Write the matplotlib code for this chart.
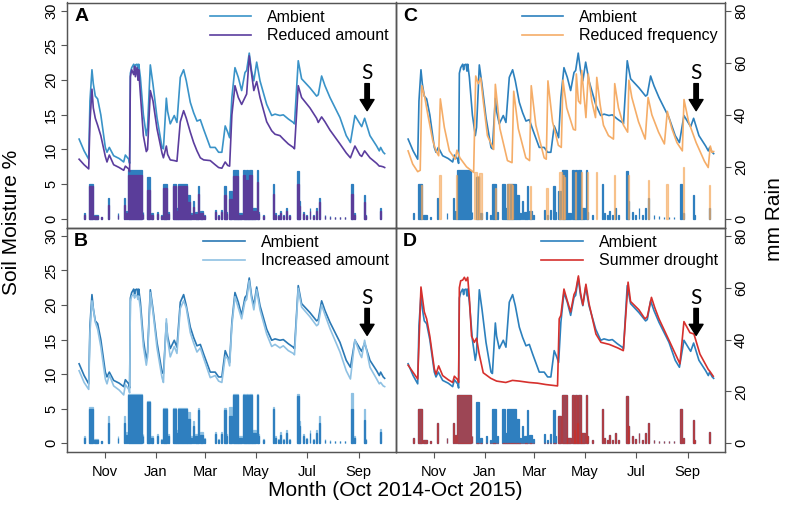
import numpy as np
import matplotlib
matplotlib.use("Agg")
import matplotlib.pyplot as plt
import matplotlib.dates as mdates

plt.rcParams['font.family'] = ['Liberation Sans', 'DejaVu Sans']

# days since 1 Oct 2014
base = mdates.date2num(np.datetime64('2014-10-01'))

# ---- soil moisture (%), ambient and the treatments read on the same days ----
amb_d = [0, 6, 11.5, 13, 15.4, 17, 19.4, 22.2, 26, 31.4, 33.4, 36.2, 41.4, 48, 53.4, 55.4, 59.4, 60.5, 61.4, 63,
         65.4, 66.5, 67.4, 69.4, 70.5, 71.4, 73.4, 77, 80.5, 82, 85.3, 88.5, 93.3, 99.3, 101, 104.5, 106, 109.2, 114, 117.2,
         121.2, 125.2, 128.4, 133.2, 137.2, 141.2, 145.2, 149.2, 157.1, 163, 167.1, 171, 175, 178, 180.3, 183, 186.7, 190.7, 194.7, 198.7,
         200.7, 203.8, 206.5, 209.3, 212.7, 216.7, 224.7, 230.7, 234.7, 240.6, 244.6, 250.6, 256.5, 258, 262.5, 266.5, 276.5, 284.5, 286.5, 290.5,
         294.5, 300.5, 312.5, 320, 325, 330.4, 336.4, 338.5, 342, 348.4, 356.4, 359.6, 361.2, 364.3, 366]
ambient = [11.5, 9.8, 8.6, 17, 21.5, 19.5, 17.7, 17.3, 15, 10.3, 9.6, 10.3, 9.1, 8.7, 8.2, 9.2, 8.6, 8.0, 21.0, 21.8,
           22.3, 21.5, 22.2, 22.3, 21.3, 22.3, 20.4, 15, 12, 13.2, 22.2, 19.4, 14.6, 10.3, 10.1, 17.4, 15.5, 13.7, 14.9, 13.9,
           20.4, 21.5, 19.9, 16.8, 15.3, 14.1, 14.3, 12.9, 10.3, 10.3, 9.6, 9.6, 13.4, 12.5, 11.7, 17.5, 21.8, 20.4, 18.5, 21.1,
           21.4, 23.9, 21.4, 19.9, 22.6, 19.9, 16.5, 14.9, 15.1, 14.9, 15.0, 14.4, 13.9, 13.7, 22.8, 20.2, 18.9, 17.7, 17.9, 20.6,
           19.2, 17.5, 14.6, 12, 11, 14.9, 13.7, 13.3, 14.5, 12, 10.5, 9.8, 10.3, 9.6, 9.4]
reduced_amt = [8.6, 7.8, 7.2, 14, 18.7, 16, 14.5, 13.5, 12, 9, 8.2, 9.2, 7.8, 7.4, 7.0, 7.6, 7.2, 6.8, 20.5, 21.5,
               20.8, 22, 20.5, 21.8, 20.0, 21.5, 18, 12, 9.7, 10, 18.5, 17, 13, 9.5, 8.8, 10.5, 9.3, 8.5, 8.4, 8.3,
               14, 15.6, 14.5, 12.5, 11, 9.8, 8.8, 8.5, 8.4, 7.8, 7.4, 7.3, 8.2, 7.7, 7.6, 15, 19.2, 17.5, 16.5, 17.5,
               18, 23.5, 21, 18.5, 19.8, 17.5, 14, 12.7, 12.2, 12.0, 11.5, 10.8, 10.3, 10.1, 19.2, 17.5, 16, 14.5, 13.9, 14.7,
               14, 12.8, 10.8, 9.5, 8.8, 10.5, 9.2, 9.0, 9.8, 8.8, 8, 7.6, 7.6, 7.5, 7.4]
increased_amt = [10.5, 8.8, 7.8, 16, 20.6, 19.5, 17.5, 16.5, 14, 9.3, 8.6, 9.9, 8.3, 7.7, 7.0, 8.5, 7.8, 7.3, 20.5, 21.3,
                 21.5, 21, 21.5, 21.3, 20.8, 21.3, 19.5, 14, 11.3, 12.5, 21.8, 19, 13.8, 9.5, 8.8, 18.0, 15, 12.5, 14, 13,
                 19.5, 20.6, 19.6, 16, 14.5, 13.2, 13.8, 12.3, 9.5, 9.8, 9, 8.8, 12.5, 12.3, 11.2, 17, 21.2, 19.6, 18, 20.5,
                 20.8, 23.5, 21, 19.3, 22.2, 19.3, 15.8, 14, 14.3, 13.8, 14.1, 13.4, 13, 12.8, 22.4, 19.7, 18.3, 17, 17.2, 20.0,
                 18.6, 16.6, 13.2, 10.5, 9.3, 15, 12.9, 12.4, 14.9, 11, 9.3, 8.6, 8.8, 8.3, 8.2]

rf_d = [0, 5.5, 11.5, 14.5, 16.5, 20, 23.5, 29.5, 33.4, 36.6, 38.6, 43.4, 49.4, 56.5, 58.5, 62, 70, 78.5, 81, 84,
        87, 90, 95, 102.5, 104.5, 110, 119, 124.5, 126.5, 132, 141, 145.5, 147.5, 153, 163, 165.5, 167.5, 173, 180, 183.5,
        185.5, 190, 198, 200.5, 201.5, 204, 206.5, 208, 213, 215.8, 220, 224.5, 226, 230, 234, 240, 246, 247.5, 252, 258,
        263, 264.5, 268, 276, 284, 287.5, 292, 300, 307, 310.5, 316, 322, 328.5, 330.5, 336, 345, 355, 359.5, 362, 364, 366]
reduced_freq = [9.8, 7.9, 6.8, 7.0, 19.2, 17.5, 15.1, 11.3, 9.8, 9.1, 17.3, 13.2, 9.8, 8.6, 9.9, 8.8, 7.5, 6.7, 20.6, 19.5,
                20.3, 17, 12, 10, 19.4, 13, 8.4, 8.1, 18.4, 13, 8.8, 8.4, 19.2, 13.5, 8.8, 8.6, 19.9, 14, 10.6, 10.3,
                20, 16, 12.9, 12.8, 20.9, 17, 16.6, 21.4, 14.6, 20.9, 17, 14.6, 20.4, 16.5, 13.5, 12, 11.5, 19.5, 16, 13.5,
                12.5, 20, 17.5, 14, 11.5, 17.5, 15, 12.5, 10.8, 15.5, 13, 11, 9.8, 17.2, 14, 11, 8.3, 7.4, 10.5, 9.6, 9.7]

dr_d = [0, 11.5, 15.4, 19.4, 22.2, 26, 31.4, 33.4, 36.6, 41.4, 48, 53.4, 55.4, 59.4, 60.5, 61.4, 63, 65.4, 67.4, 69.4,
        71.4, 73.4, 76, 79.3, 82, 85, 90, 99, 106, 117, 125, 133, 145, 155, 165, 179, 181, 183, 186.7, 190.7,
        194.7, 198.7, 200.7, 204, 206.5, 209.3, 213, 216.7, 225, 231, 241, 251, 257.8, 263.5, 266.5, 276.5, 283.7, 286.5, 291.5, 295.5,
        300.5, 313.7, 325.6, 330.4, 337.6, 342.4, 349.6, 359.5, 361.5, 365.5]
summer_drought = [11.3, 9.3, 22.6, 19, 18, 15.5, 10.8, 10, 11.2, 9.8, 9.2, 8.8, 9.7, 9.2, 8.8, 22.5, 23.5, 23.6, 24, 23.5,
                  24, 21, 15.5, 14.6, 15.2, 13, 10.2, 9.4, 9.0, 8.8, 9.1, 9.0, 8.8, 8.7, 8.5, 8.3, 18, 18.5, 22.3, 20.6,
                  19, 21.5, 22, 24.2, 21.8, 20, 23, 20.2, 15.8, 14.6, 14.3, 13.8, 13.4, 23.3, 20.5, 19.3, 18, 18.3, 21.1, 19.6,
                  18, 14.6, 11.5, 17.6, 16, 15.8, 12.9, 10.7, 10.4, 9.7]

# ---- rain (mm): start day, number of days, amount ----
rain_start = [6, 12, 18, 26, 35, 46, 54, 56, 59, 76, 81, 86, 93, 98, 101, 106, 112, 116, 119, 129,
              133, 136, 139, 143, 145, 150, 163, 166, 170, 174, 176, 179, 184, 190, 196, 199, 200, 202, 204, 207,
              213, 214, 220, 232, 235, 238, 241, 244, 248, 252, 261, 263, 268, 272, 276, 280, 284, 287, 294, 300,
              306, 312, 318, 326, 329, 341, 343, 361]
rain_len = [1, 5, 5, 1, 1, 1, 1, 1, 16, 1, 4, 2, 1, 1, 4, 2, 4, 3, 10, 4,
            2, 2, 3, 1, 4, 1, 1, 1, 1, 2, 1, 4, 6, 5, 3, 1, 2, 2, 3, 5,
            1, 2, 1, 2, 1, 1, 1, 2, 1, 1, 2, 2, 1, 1, 1, 1, 1, 2, 1, 1,
            1, 1, 1, 2, 1, 1, 1, 1]
rain_ambient = [2.1, 13.3, 1.3, 0.8, 8, 2.1, 8, 3.2, 18.7, 2.7, 16, 2.1, 2.7, 1.3, 13.3, 2.7, 13.3, 4, 13.3, 9.3,
                2.1, 6.7, 2.7, 12.8, 3.2, 1.6, 3.5, 1.3, 3.5, 12.8, 2.7, 10.7, 18.7, 2.1, 18.7, 5.3, 18.7, 8, 18.7, 4,
                18.7, 2.7, 1.3, 13.3, 2.1, 1.3, 3.2, 1.3, 4, 1.3, 18.4, 6.7, 2.7, 1.6, 4, 1.3, 4, 8, 1.3, 1.1,
                0.8, 0.8, 0.8, 13.3, 2.1, 9, 1.3, 4.3]
rain_reduced = [1.6, 12.5, 1.0, 0.6, 5.5, 1.6, 5.5, 2.4, 17, 2, 11, 1.6, 2, 1, 12, 2, 12.5, 3, 12.5, 6.5,
                1.6, 4.5, 2, 9.5, 2.4, 1.2, 2.6, 1, 2.6, 9, 2, 7.5, 16.5, 1.6, 17, 4, 15, 6, 17, 3,
                14, 2, 1, 9.5, 1.6, 1, 2.4, 1, 3, 1, 13.5, 5, 2, 1.2, 3, 1, 3, 6.5, 1, 0.8,
                0.6, 0.6, 0.6, 9.5, 1.6, 6.5, 1, 3.2]
rain_increased = [2.7, 14, 1.7, 1, 10.4, 2.7, 10.4, 4.2, 19, 3.5, 16.5, 2.7, 3.5, 1.7, 13.8, 3.5, 13.8, 5.2, 13.8, 12,
                  2.7, 8.7, 3.5, 13.5, 4.2, 2.1, 4.5, 1.7, 4.5, 13.5, 3.5, 13.9, 19, 2.7, 19, 6.9, 19, 10.4, 19, 5.2,
                  19, 3.5, 1.7, 14, 2.7, 1.7, 4.2, 1.7, 5.2, 1.7, 19, 8.7, 3.5, 2.1, 5.2, 1.7, 5.2, 10.4, 1.7, 1.4,
                  1, 1, 1, 19.5, 2.7, 13.3, 1.7, 5.6]
rain_drought = [2.1, 13.3, 1.3, 0.8, 8, 2.1, 8, 3.2, 18.7, 2.7, 0, 0, 0, 0, 0, 0, 0, 0, 0, 0,
                0, 0, 0, 0, 0, 0, 0, 0, 0, 0, 0, 10.7, 18.7, 2.1, 18.7, 5.3, 18.7, 8, 18.7, 4,
                18.7, 2.7, 1.3, 13.3, 2.1, 1.3, 3.2, 1.3, 4, 1.3, 18.4, 6.7, 2.7, 1.6, 4, 1.3, 4, 8, 1.3, 1.1,
                0.8, 0.8, 0.8, 13.3, 2.1, 9, 1.3, 4.3]

rf_rain_start = [15.5, 37.5, 57.5, 79, 82, 85, 103.5, 118, 121, 124, 145.5, 165.5, 181, 184, 187, 200, 207, 214.5,
                 225, 246.5, 263.5, 287, 309.5, 329.5, 360.5]
rf_rain_len = [1.5, 1.5, 1.5, 3, 3, 3, 1.5, 3, 3, 2, 1.5, 1.5, 3, 3, 1.5, 1.5, 1.5, 1.5,
               1.5, 1.5, 1.5, 1.5, 1.5, 1.5, 1.5]
rf_rain = [13, 17, 17, 18, 16.5, 17.5, 12, 13.5, 13.5, 13, 12.5, 12, 18, 17, 16, 18, 18, 18,
           18, 17, 17, 15, 13.5, 20, 13]

C_AMB = '#2c80bd'
C_AMB_BAR = '#2f7fbf'

W = 329 / 787
L1, L2 = 67 / 787, 396 / 787
TOP_B, TOP_H = 1 - 227.5 / 518, 225 / 518
BOT_B, BOT_H = 1 - 452 / 518, 224.5 / 518

fig = plt.figure(figsize=(7.87, 5.18), dpi=100)


def panel(rect, letter, lines, bars, left, right, bottom):
    ax = fig.add_axes(rect)
    ax2 = ax.twinx()
    ax.set_zorder(ax2.get_zorder() + 1)
    ax.patch.set_visible(False)

    # bars drawn like thick R "h" lines: edge in the same colour widens them
    for st, ln, mm, col, al in bars:
        ax2.bar(base + np.array(st), mm, width=ln, align='edge', color=col, alpha=al,
                edgecolor=col, linewidth=0.9)
    for d, v, col, lab in lines:
        ax.plot(base + np.array(d), v, color=col, lw=1.2, label=lab)

    ax.set_xlim(base - 14.5, base + 379.6)
    ax.set_ylim(-1.25, 31.2)
    ax2.set_ylim(-3.33, 83.2)

    ax.xaxis.set_major_locator(mdates.MonthLocator(bymonth=[11, 1, 3, 5, 7, 9]))
    ax.xaxis.set_major_formatter(mdates.DateFormatter('%b'))
    ax.set_yticks(range(0, 31, 5))
    ax2.set_yticks(range(0, 81, 20))
    for a in (ax, ax2):
        a.tick_params(direction='out', length=4.5, width=0.8, color='#555555', labelsize=10.5, pad=2)
        for s in a.spines.values():
            s.set_color('#555555')
            s.set_linewidth(0.9)
    ax.tick_params(axis='y', labelrotation=90, left=left, labelleft=left)
    ax2.tick_params(axis='y', labelrotation=90, right=right, labelright=right)
    for t in ax.get_yticklabels() + ax2.get_yticklabels():
        t.set_verticalalignment('center')
    ax.tick_params(axis='x', bottom=bottom, labelbottom=bottom, pad=5)

    ax.text(0.022, 0.975, letter, transform=ax.transAxes, ha='left', va='top',
            fontsize=14, fontweight='bold')
    ax.legend(loc='upper right', frameon=False, fontsize=11.5, handlelength=2.6,
              handletextpad=1.0, labelspacing=0.22, borderaxespad=0.25, borderpad=0.2)

    # "S" marker with arrow
    xs = base + 345
    ax.text(xs, 21.0, 'S', ha='center', va='center', fontsize=15, family=['Lato', 'DejaVu Sans'])
    ax.annotate('', xy=(xs, 15.6), xytext=(xs, 19.5),
                arrowprops=dict(facecolor='black', edgecolor='black', width=3.2,
                                headwidth=10, headlength=8, shrink=0))
    return ax


panel([L1, TOP_B, W, TOP_H], 'A',
      [(amb_d, ambient, '#3a93c8', 'Ambient'), (amb_d, reduced_amt, '#5b3d9e', 'Reduced amount')],
      [(rain_start, rain_len, rain_ambient, C_AMB_BAR, 1.0),
       (rain_start, rain_len, rain_reduced, '#5a3d9a', 1.0)],
      True, False, False)

panel([L1, BOT_B, W, BOT_H], 'B',
      [(amb_d, ambient, '#2a78b4', 'Ambient'), (amb_d, increased_amt, '#8fc1e3', 'Increased amount')],
      [(rain_start, rain_len, rain_increased, '#8fc1e3', 1.0),
       (rain_start, rain_len, rain_ambient, C_AMB_BAR, 1.0)],
      True, False, True)

panel([L2, TOP_B, W, TOP_H], 'C',
      [(amb_d, ambient, C_AMB, 'Ambient'), (rf_d, reduced_freq, '#f5ad68', 'Reduced frequency')],
      [(rain_start, rain_len, rain_ambient, C_AMB_BAR, 1.0),
       (rf_rain_start, rf_rain_len, rf_rain, '#f5a95e', 0.6)],
      False, True, False)

panel([L2, BOT_B, W, BOT_H], 'D',
      [(amb_d, ambient, C_AMB, 'Ambient'), (dr_d, summer_drought, '#d6302d', 'Summer drought')],
      [(rain_start, rain_len, rain_ambient, C_AMB_BAR, 1.0),
       (rain_start, rain_len, rain_drought, '#c8302c', 0.72)],
      False, True, True)

fig.text(12 / 787, 1 - 222 / 518, 'Soil Moisture %', rotation=90, ha='center', va='center', fontsize=15)
fig.text(775 / 787, 1 - 219 / 518, 'mm Rain', rotation=90, ha='center', va='center', fontsize=15)
fig.text(395 / 787, 1 - 490 / 518, 'Month (Oct 2014-Oct 2015)', ha='center', va='center', fontsize=15)

fig.savefig('out.png', dpi=100)
